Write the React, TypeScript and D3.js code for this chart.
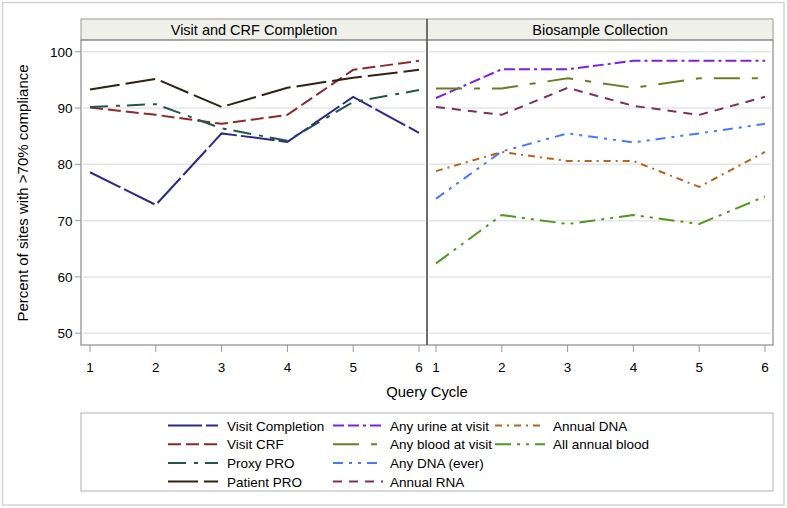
import React from "react";
import * as d3 from "d3";

const cycles = [1, 2, 3, 4, 5, 6];
const yTicks = [50, 60, 70, 80, 90, 100];

const visitCompletion = [78.6, 72.8, 85.5, 84.0, 92.0, 85.6];
const visitCRF = [90.1, 88.8, 87.2, 88.8, 96.8, 98.4];
const proxyPRO = [90.2, 90.7, 86.4, 84.2, 91.1, 93.2];
const patientPRO = [93.3, 95.2, 90.2, 93.6, 95.4, 96.8];

const anyUrine = [91.8, 96.9, 96.9, 98.4, 98.4, 98.4];
const anyBlood = [93.5, 93.5, 95.3, 93.6, 95.3, 95.3];
const anyDNA = [73.9, 82.3, 85.5, 83.9, 85.5, 87.2];
const annualRNA = [90.2, 88.8, 93.6, 90.4, 88.8, 92.0];
const annualDNA = [78.8, 82.2, 80.6, 80.6, 76.0, 82.2];
const allAnnualBlood = [62.4, 71.0, 69.4, 71.0, 69.4, 74.3];

type S = { name: string; values: number[]; color: string; dash: string };

const leftSeries: S[] = [
  { name: "Visit Completion", values: visitCompletion, color: "#2a2a88", dash: "34,4" },
  { name: "Visit CRF", values: visitCRF, color: "#8c2a2a", dash: "13,5" },
  { name: "Proxy PRO", values: proxyPRO, color: "#24544a", dash: "18,8,4,7" },
  { name: "Patient PRO", values: patientPRO, color: "#33200f", dash: "30,6" },
];
const rightSeries: S[] = [
  { name: "Any urine at visit", values: anyUrine, color: "#7f1fe6", dash: "11,4,11,4,3,4" },
  { name: "Any blood at visit", values: anyBlood, color: "#6b7d20", dash: "26,12,6,12" },
  { name: "Any DNA (ever)", values: anyDNA, color: "#4b78f5", dash: "10,6,3,6,3,6" },
  { name: "Annual RNA", values: annualRNA, color: "#7b3060", dash: "9,7" },
  { name: "Annual DNA", values: annualDNA, color: "#b5651d", dash: "7,5,2,5" },
  { name: "All annual blood", values: allAnnualBlood, color: "#4e9a20", dash: "16,6,3,6,3,6" },
];

const font = "'Liberation Sans', Arial, sans-serif";

const plotTop = 40;
const plotBottom = 345;
const panels = [
  { title: "Visit and CRF Completion", x0: 81, x1: 427, r0: 90, r1: 419, series: leftSeries },
  { title: "Biosample Collection", x0: 427, x1: 773, r0: 436, r1: 765, series: rightSeries },
];

const y = d3.scaleLinear().domain([47.9, 102.1]).range([plotBottom, plotTop]);

export default function App() {
  const legendCols = [
    { lineX: 168, textX: 227, items: leftSeries },
    { lineX: 333, textX: 390, items: rightSeries.slice(0, 4) },
    { lineX: 495, textX: 553, items: rightSeries.slice(4) },
  ];
  return (
    <svg width={787} height={508} style={{ position: "absolute", left: 0, top: 0, background: "#fff" }} fontFamily={font}>
      <rect x={2.5} y={2.5} width={781.5} height={502.5} fill="#fff" stroke="#d4d4d4" strokeWidth={1.5} />
      {panels.map((p, pi) => {
        const x = d3.scaleLinear().domain([1, 6]).range([p.r0, p.r1]);
        const line = d3.line<number>().x((_, i) => x(cycles[i])).y((v) => y(v));
        return (
          <g key={pi}>
            <rect x={p.x0} y={19} width={p.x1 - p.x0} height={21} fill="#f0f0ea" stroke="#9a9a9a" strokeWidth={1} />
            <text x={(p.x0 + p.x1) / 2} y={34.5} textAnchor="middle" fontSize={14.5} fill="#000">{p.title}</text>
            {yTicks.map((t) => (
              <line key={t} x1={p.x0 + 2} x2={p.x1 - 2} y1={y(t)} y2={y(t)} stroke="#e4e4e4" strokeWidth={1.5} />
            ))}
            {p.series.map((s) => (
              <path key={s.name} d={line(s.values) || ""} fill="none" stroke={s.color} strokeWidth={2} strokeDasharray={s.dash} />
            ))}
            {cycles.map((c) => (
              <g key={c}>
                <line x1={x(c)} x2={x(c)} y1={plotBottom} y2={plotBottom + 7} stroke="#999" strokeWidth={1} />
                <text x={x(c)} y={372} textAnchor="middle" fontSize={13.5} fill="#000">{c}</text>
              </g>
            ))}
          </g>
        );
      })}
      <rect x={81} y={plotTop} width={692} height={plotBottom - plotTop} fill="none" stroke="#8a8a8a" strokeWidth={1.2} />
      <line x1={427} x2={427} y1={19} y2={plotBottom} stroke="#6e6e6e" strokeWidth={2} />
      {yTicks.map((t) => (
        <g key={t}>
          <line x1={75} x2={81} y1={y(t)} y2={y(t)} stroke="#999" strokeWidth={1} />
          <text x={72.5} y={y(t) + 5} textAnchor="end" fontSize={13.5} fill="#000">{t}</text>
        </g>
      ))}
      <text transform={`translate(27.5,193) rotate(-90)`} textAnchor="middle" fontSize={15} fill="#000">
        Percent of sites with &gt;70% compliance
      </text>
      <text x={427} y={397} textAnchor="middle" fontSize={14.8} fill="#000">Query Cycle</text>
      <rect x={81} y={413} width={692} height={78} fill="#fff" stroke="#b0b0b0" strokeWidth={1} />
      {legendCols.map((col, ci) =>
        col.items.map((s, i) => {
          const cy = 425.5 + i * 18.7;
          return (
            <g key={`${ci}-${i}`}>
              <line x1={col.lineX} x2={col.lineX + 50} y1={cy} y2={cy} stroke={s.color} strokeWidth={2} strokeDasharray={s.dash} />
              <text x={col.textX} y={cy + 5} fontSize={13.5} fill="#000">{s.name}</text>
            </g>
          );
        })
      )}
    </svg>
  );
}
